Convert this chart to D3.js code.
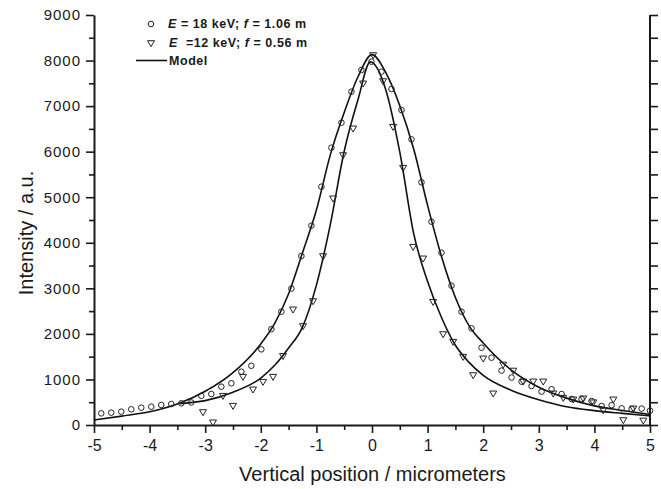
<!DOCTYPE html>
<html>
<head>
<meta charset="utf-8">
<script src="https://cdn.jsdelivr.net/npm/d3@7"></script>
<style>
  body { margin: 0; background: #fff; }
  svg { font-family: "Liberation Sans", Arial, sans-serif; }
  .axis path, .axis line { stroke: #1a1a1a; }
  .axis text { fill: #1a1a1a; }
</style>
</head>
<body>
<script>
var w = 661;
var h = 489;

// tick values
var xTicks = [-5, -4, -3, -2, -1, 0, 1, 2, 3, 4, 5];
var xMinor = [-4.5, -3.5, -2.5, -1.5, -0.5, 0.5, 1.5, 2.5, 3.5, 4.5];
var yTicks = [0, 1000, 2000, 3000, 4000, 5000, 6000, 7000, 8000, 9000];
var yMinor = [500, 1500, 2500, 3500, 4500, 5500, 6500, 7500, 8500];

// E = 18 keV; f = 1.06 m (circles)
var circleX = [-4.87, -4.69, -4.51, -4.33, -4.15, -3.97, -3.79, -3.61, -3.43, -3.25,
  -3.07, -2.89, -2.71, -2.53, -2.35, -2.17, -1.99, -1.81, -1.63, -1.45,
  -1.27, -1.09, -0.91, -0.73, -0.55, -0.37, -0.19, -0.01, 0.17, 0.35,
  0.53, 0.71, 0.89, 1.07, 1.25, 1.43, 1.61, 1.79, 1.97, 2.15,
  2.33, 2.51, 2.69, 2.87, 3.05, 3.23, 3.41, 3.59, 3.77, 3.95,
  4.13, 4.31, 4.49, 4.67, 4.85, 5.0];
var circleY = [256, 271, 293, 344, 380, 402, 439, 461, 476, 495,
  640, 680, 841, 915, 1170, 1300, 1661, 2105, 2487, 2995,
  3709, 4375, 5231, 6087, 6636, 7316, 7792, 7975, 7755, 7375,
  6914, 6271, 5327, 4462, 3782, 3058, 2487, 2122, 1697, 1478,
  1193, 1042, 951, 856, 732, 786, 680, 571, 571, 527,
  417, 435, 366, 350, 360, 315];

// E = 12 keV; f = 0.56 m (triangles)
var triX = [-3.04, -2.86, -2.68, -2.50, -2.32, -2.14, -1.96, -1.78, -1.60, -1.42,
  -1.24, -1.06, -0.88, -0.70, -0.52, -0.34, -0.16, 0.02, 0.20, 0.38,
  0.56, 0.74, 0.92, 1.10, 1.28, 1.46, 1.64, 1.82, 2.00, 2.18,
  2.36, 2.54, 2.72, 2.90, 3.08, 3.26, 3.44, 3.62, 3.80, 3.98,
  4.16, 4.34, 4.52, 4.70, 4.88];
var triY = [285, 59, 643, 424, 1061, 783, 951, 1061, 1518, 2539,
  2173, 2721, 3709, 4976, 5926, 6512, 7500, 8121, 7550, 6548,
  5648, 3914, 3658, 2706, 1997, 1829, 1500, 1097, 1463, 695,
  1328, 1196, 958, 958, 958, 695, 600, 563, 586, 500,
  329, 563, 110, 366, 100];

// model curves
var model18X = [-5, -4.5, -4, -3.5, -3, -2.5, -2, -1.75, -1.5, -1.25, -1, -0.75, -0.5, -0.25, 0,
  0.25, 0.5, 0.75, 1, 1.25, 1.5, 1.75, 2, 2.5, 3, 3.5, 4, 4.5, 5];
var model18Y = [110, 195, 290, 460, 740, 1150, 1780, 2230, 2880, 3780, 4720, 5930, 6860, 7650, 8130,
  7730, 7010, 6060, 4820, 3700, 2800, 2170, 1800, 1210, 830, 590, 420, 320, 230];
var model12X = [-3.45, -3, -2.5, -2, -1.75, -1.5, -1.25, -1, -0.75, -0.5, -0.25, -0.03,
  0.25, 0.5, 0.75, 1, 1.25, 1.5, 1.75, 2, 2.5, 3, 3.5, 4, 4.5, 5];
var model12Y = [470, 535, 720, 1030, 1310, 1690, 2150, 3070, 4400, 6010, 7150, 7970,
  7350, 5990, 4200, 3150, 2360, 1750, 1370, 1090, 765, 555, 400, 315, 255, 200];

// scales
var xScale = d3.scaleLinear().domain([-5, 5]).range([94, 650]);
var yScale = d3.scaleLinear().domain([0, 9000]).range([425, 15]);

var svg = d3.select("body").append("svg").attr("width", w).attr("height", h);
svg.append("rect").attr("width", w).attr("height", h).attr("fill", "#fff");

// minor ticks
svg.append("g")
  .attr("class", "axis")
  .attr("transform", "translate(0,425)")
  .call(d3.axisBottom(xScale).tickValues(xMinor).tickSize(5).tickSizeOuter(0).tickFormat(""))
  .call(function (g) { g.select(".domain").remove(); });

svg.append("g")
  .attr("class", "axis")
  .attr("transform", "translate(94,0)")
  .call(d3.axisLeft(yScale).tickValues(yMinor).tickSize(5).tickSizeOuter(0).tickFormat(""))
  .call(function (g) { g.select(".domain").remove(); });

// right axis, ticks inward
svg.append("g")
  .attr("class", "axis")
  .attr("transform", "translate(650,0)")
  .call(d3.axisLeft(yScale).tickValues(yTicks.concat(yMinor)).tickSize(-8).tickSizeOuter(0).tickFormat(""))
  .call(function (g) { g.select(".domain").remove(); });

// main axes
var xAxis = svg.append("g")
  .attr("class", "axis")
  .attr("transform", "translate(0,425)")
  .call(d3.axisBottom(xScale).tickValues(xTicks).tickSize(8).tickSizeOuter(0).tickPadding(7)
    .tickFormat(function (d) { return String(d); }));
xAxis.selectAll("text").attr("font-size", 16);

var yAxis = svg.append("g")
  .attr("class", "axis")
  .attr("transform", "translate(94,0)")
  .call(d3.axisLeft(yScale).tickValues(yTicks).tickSize(8).tickSizeOuter(0).tickPadding(5)
    .tickFormat(function (d) { return String(d); }));
yAxis.selectAll("text").attr("font-size", 15).attr("letter-spacing", "1px");

svg.selectAll(".axis line").attr("stroke-width", 1.6);
svg.selectAll(".axis .domain").attr("stroke-width", 2);

// right axis line
svg.append("line")
  .attr("x1", xScale(5)).attr("x2", xScale(5))
  .attr("y1", yScale(9000)).attr("y2", yScale(0))
  .attr("stroke", "#1a1a1a").attr("stroke-width", 2);

// model lines
var line = d3.line()
  .x(function (d) { return xScale(d[0]); })
  .y(function (d) { return yScale(d[1]); })
  .curve(d3.curveMonotoneX);

svg.append("path")
  .datum(d3.zip(model18X, model18Y))
  .attr("d", line)
  .attr("fill", "none").attr("stroke", "#111").attr("stroke-width", 1.6);

svg.append("path")
  .datum(d3.zip(model12X, model12Y))
  .attr("d", line)
  .attr("fill", "none").attr("stroke", "#111").attr("stroke-width", 1.6);

// data points
var triPath = "M-3.5,-2.3L3.5,-2.3L0,3.7Z";

svg.append("g")
  .selectAll("circle")
  .data(d3.zip(circleX, circleY))
  .enter()
  .append("circle")
  .attr("cx", function (d) { return xScale(d[0]); })
  .attr("cy", function (d) { return yScale(d[1]); })
  .attr("r", 2.8)
  .attr("fill", "none")
  .attr("stroke", "#222")
  .attr("stroke-width", 1);

svg.append("g")
  .selectAll("path")
  .data(d3.zip(triX, triY))
  .enter()
  .append("path")
  .attr("transform", function (d) { return "translate(" + xScale(d[0]) + "," + yScale(d[1]) + ")"; })
  .attr("d", triPath)
  .attr("fill", "none")
  .attr("stroke", "#222")
  .attr("stroke-width", 1);

// axis titles
svg.append("text")
  .attr("x", 372.5).attr("y", 481)
  .attr("text-anchor", "middle")
  .attr("font-size", 20)
  .attr("fill", "#1a1a1a")
  .text("Vertical position / micrometers");

svg.append("text")
  .attr("transform", "translate(33,233) rotate(-90)")
  .attr("text-anchor", "middle")
  .attr("font-size", 20)
  .attr("fill", "#1a1a1a")
  .text("Intensity / a.u.");

// legend
var legend = svg.append("g")
  .attr("font-size", 12.5)
  .attr("font-weight", "bold")
  .attr("letter-spacing", "0.55px")
  .attr("fill", "#1a1a1a");

legend.append("circle")
  .attr("cx", 151).attr("cy", 24).attr("r", 2.8)
  .attr("fill", "none").attr("stroke", "#222").attr("stroke-width", 1);

var t1 = legend.append("text").attr("x", 168).attr("y", 27.5).style("white-space", "pre");
t1.append("tspan").attr("font-style", "italic").text("E");
t1.append("tspan").text(" = 18 keV; ");
t1.append("tspan").attr("font-style", "italic").text("f");
t1.append("tspan").text(" = 1.06 m");

legend.append("path")
  .attr("transform", "translate(151,43)")
  .attr("d", triPath)
  .attr("fill", "none").attr("stroke", "#222").attr("stroke-width", 1);

var t2 = legend.append("text").attr("x", 169).attr("y", 47).style("white-space", "pre");
t2.append("tspan").attr("font-style", "italic").text("E");
t2.append("tspan").text("  =12 keV; ");
t2.append("tspan").attr("font-style", "italic").text("f");
t2.append("tspan").text(" = 0.56 m");

legend.append("line")
  .attr("x1", 136).attr("x2", 167).attr("y1", 60.5).attr("y2", 60.5)
  .attr("stroke", "#111").attr("stroke-width", 1.6);

legend.append("text").attr("x", 169).attr("y", 64.5).text("Model");
</script>
</body>
</html>
